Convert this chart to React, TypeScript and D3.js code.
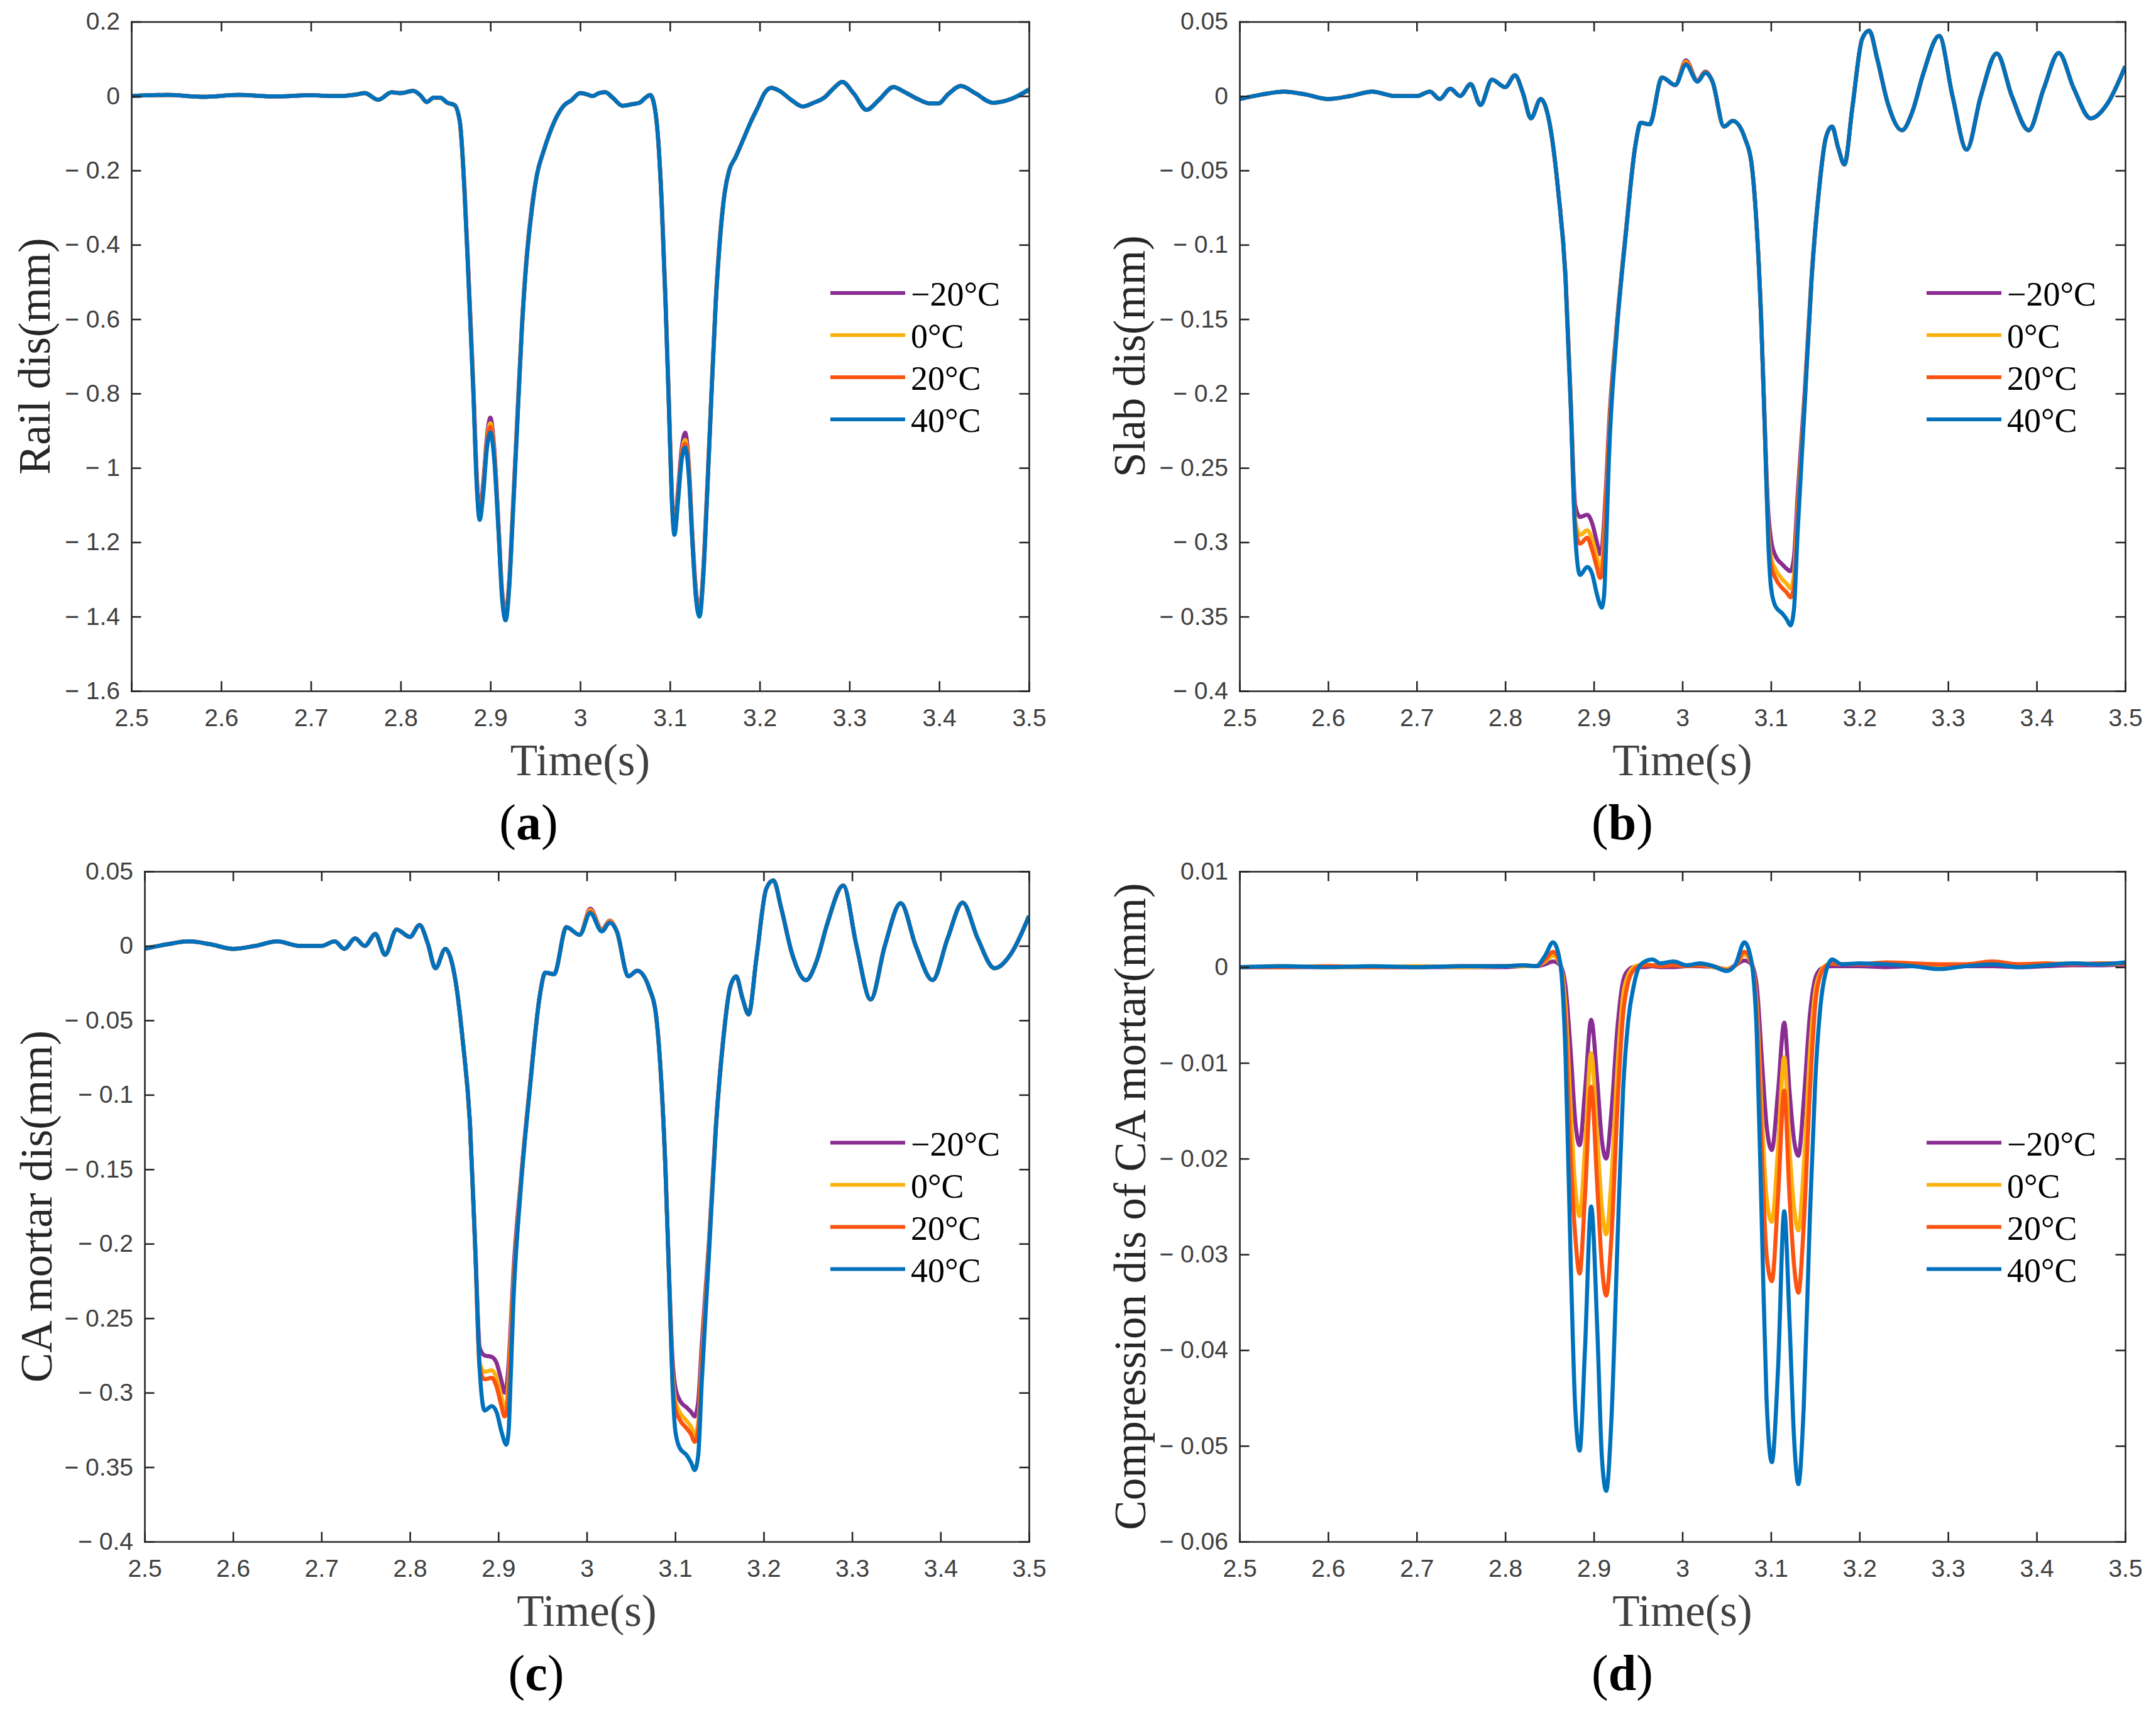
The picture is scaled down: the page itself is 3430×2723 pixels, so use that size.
import { useEffect, useRef } from "react";
import * as d3 from "d3";

const W = 3430;
const H = 2723;

const seriesNames = ["\u221220°C", "0°C", "20°C", "40°C"];
const seriesColors = ["#8a2d92", "#fdb10d", "#fc5410", "#0072bd"];

const timeTicks = [2.5, 2.6, 2.7, 2.8, 2.9, 3.0, 3.1, 3.2, 3.3, 3.4, 3.5];
const railTicks = [0.2, 0, -0.2, -0.4, -0.6, -0.8, -1, -1.2, -1.4, -1.6];
const slabTicks = [0.05, 0, -0.05, -0.1, -0.15, -0.2, -0.25, -0.3, -0.35, -0.4];
const compTicks = [0.01, 0, -0.01, -0.02, -0.03, -0.04, -0.05, -0.06];

// (a) rail displacement
const tRail = [
  2.5, 2.54, 2.58, 2.62, 2.66, 2.7, 2.73, 2.75, 2.76, 2.775,
  2.79, 2.8, 2.814, 2.822, 2.829, 2.837, 2.844, 2.852, 2.86, 2.866,
  2.871, 2.876, 2.881, 2.885, 2.888, 2.892, 2.896, 2.9, 2.904, 2.909,
  2.913, 2.917, 2.921, 2.925, 2.93, 2.935, 2.94, 2.946, 2.952, 2.959,
  2.966, 2.974, 2.982, 2.99, 3.0, 3.007, 3.014, 3.021, 3.028, 3.036,
  3.047, 3.058, 3.066, 3.073, 3.078, 3.083, 3.087, 3.091, 3.095, 3.099,
  3.102, 3.105, 3.109, 3.113, 3.117, 3.121, 3.125, 3.129, 3.133, 3.137,
  3.141, 3.146, 3.151, 3.156, 3.161, 3.166, 3.173, 3.182, 3.19, 3.198,
  3.206, 3.213, 3.222, 3.235, 3.248, 3.26, 3.272, 3.282, 3.292, 3.305,
  3.319, 3.333, 3.349, 3.362, 3.376, 3.39, 3.399, 3.41, 3.424, 3.44,
  3.46, 3.48, 3.5,
];
const railM20 = [
  0, 0.003, -0.002, 0.003, -0.001, 0.002, 0, 0.004, 0.008, -0.01,
  0.01, 0.008, 0.014, 0.002, -0.016, -0.004, -0.004, -0.018, -0.024, -0.07,
  -0.24, -0.5, -0.78, -1.03, -1.12, -1.04, -0.92, -0.865, -0.94, -1.15,
  -1.33, -1.39, -1.3, -1.11, -0.86, -0.62, -0.44, -0.3, -0.21, -0.15,
  -0.1, -0.055, -0.025, -0.012, 0.008, 0.005, 0, 0.008, 0.01, -0.004,
  -0.026, -0.022, -0.018, -0.004, 0.003, -0.03, -0.12, -0.29, -0.54, -0.83,
  -1.06, -1.16, -1.06, -0.95, -0.905, -0.99, -1.18, -1.33, -1.385, -1.28,
  -1.08, -0.81, -0.55, -0.37, -0.26, -0.2, -0.165, -0.115, -0.07, -0.03,
  0.01, 0.022, 0.014, -0.01, -0.028, -0.018, -0.004, 0.02, 0.038, 0.006,
  -0.037, -0.01, 0.024, 0.01, -0.008, -0.02, -0.02, 0.005, 0.027, 0.008,
  -0.018, -0.008, 0.016,
];
const rail0 = [
  0, 0.003, -0.002, 0.003, -0.001, 0.002, 0, 0.004, 0.008, -0.01,
  0.01, 0.008, 0.014, 0.002, -0.016, -0.004, -0.004, -0.018, -0.024, -0.07,
  -0.245, -0.51, -0.79, -1.045, -1.13, -1.055, -0.935, -0.88, -0.955, -1.16,
  -1.34, -1.4, -1.31, -1.12, -0.87, -0.625, -0.445, -0.305, -0.21, -0.15,
  -0.1, -0.055, -0.025, -0.012, 0.008, 0.005, 0, 0.008, 0.01, -0.004,
  -0.026, -0.022, -0.018, -0.004, 0.003, -0.03, -0.12, -0.295, -0.545, -0.84,
  -1.07, -1.17, -1.075, -0.965, -0.925, -1.005, -1.19, -1.34, -1.39, -1.29,
  -1.09, -0.815, -0.555, -0.375, -0.26, -0.2, -0.165, -0.115, -0.07, -0.03,
  0.01, 0.022, 0.014, -0.01, -0.028, -0.018, -0.004, 0.02, 0.038, 0.006,
  -0.037, -0.01, 0.024, 0.01, -0.008, -0.02, -0.02, 0.005, 0.027, 0.008,
  -0.018, -0.008, 0.017,
];
const rail20 = [
  0, 0.003, -0.002, 0.003, -0.001, 0.002, 0, 0.004, 0.008, -0.01,
  0.01, 0.008, 0.014, 0.002, -0.016, -0.004, -0.004, -0.018, -0.025, -0.072,
  -0.25, -0.51, -0.795, -1.05, -1.135, -1.06, -0.94, -0.89, -0.96, -1.165,
  -1.345, -1.405, -1.315, -1.125, -0.875, -0.63, -0.45, -0.31, -0.21, -0.15,
  -0.1, -0.055, -0.025, -0.012, 0.008, 0.005, 0, 0.008, 0.01, -0.004,
  -0.026, -0.022, -0.018, -0.004, 0.003, -0.03, -0.12, -0.3, -0.55, -0.845,
  -1.075, -1.175, -1.08, -0.97, -0.935, -1.01, -1.195, -1.345, -1.395, -1.295,
  -1.095, -0.82, -0.56, -0.38, -0.26, -0.2, -0.165, -0.115, -0.07, -0.03,
  0.01, 0.022, 0.014, -0.01, -0.028, -0.018, -0.004, 0.02, 0.038, 0.006,
  -0.037, -0.01, 0.024, 0.01, -0.008, -0.02, -0.02, 0.005, 0.027, 0.008,
  -0.018, -0.008, 0.017,
];
const rail40 = [
  0, 0.003, -0.002, 0.003, -0.001, 0.002, 0, 0.004, 0.008, -0.01,
  0.01, 0.008, 0.014, 0.002, -0.016, -0.004, -0.004, -0.018, -0.024, -0.07,
  -0.25, -0.52, -0.8, -1.06, -1.14, -1.07, -0.95, -0.905, -0.97, -1.17,
  -1.35, -1.41, -1.32, -1.13, -0.88, -0.63, -0.45, -0.31, -0.21, -0.15,
  -0.1, -0.055, -0.025, -0.012, 0.008, 0.005, 0, 0.008, 0.01, -0.004,
  -0.026, -0.022, -0.018, -0.004, 0.003, -0.03, -0.12, -0.3, -0.55, -0.85,
  -1.08, -1.18, -1.09, -0.98, -0.945, -1.02, -1.2, -1.35, -1.4, -1.3,
  -1.1, -0.82, -0.56, -0.38, -0.26, -0.2, -0.165, -0.115, -0.07, -0.03,
  0.01, 0.022, 0.014, -0.01, -0.028, -0.018, -0.004, 0.02, 0.038, 0.006,
  -0.037, -0.01, 0.024, 0.01, -0.008, -0.02, -0.02, 0.005, 0.027, 0.008,
  -0.018, -0.008, 0.018,
];

// (b) slab and (c) CA mortar share sample times
const tSlab = [
  2.5, 2.525, 2.55, 2.575, 2.6, 2.625, 2.65, 2.675, 2.7, 2.715,
  2.726, 2.738, 2.749, 2.761, 2.772, 2.785, 2.8, 2.811, 2.82, 2.829,
  2.84, 2.846, 2.852, 2.86, 2.868, 2.874, 2.879, 2.8845, 2.8926, 2.898,
  2.9035, 2.907, 2.909, 2.9117, 2.914, 2.917, 2.925, 2.936, 2.947, 2.953,
  2.963, 2.977, 2.992, 3.004, 3.017, 3.026, 3.034, 3.047, 3.057, 3.071,
  3.078, 3.083, 3.089, 3.093, 3.097, 3.1, 3.105, 3.113, 3.118, 3.122,
  3.126, 3.13, 3.138, 3.146, 3.154, 3.162, 3.169, 3.176, 3.183, 3.192,
  3.203, 3.211, 3.22, 3.232, 3.248, 3.26, 3.272, 3.29, 3.305, 3.321,
  3.337, 3.355, 3.372, 3.391, 3.408, 3.425, 3.442, 3.461, 3.48, 3.5,
];
const slabM20 = [
  -0.002, 0.001, 0.003, 0.001, -0.002, 0, 0.003, 0, 0, 0.003,
  -0.002, 0.005, 0, 0.008, -0.006, 0.011, 0.006, 0.014, 0.002, -0.015,
  -0.002, -0.008, -0.025, -0.065, -0.12, -0.205, -0.275, -0.283, -0.2815, -0.287,
  -0.3, -0.308, -0.305, -0.285, -0.26, -0.223, -0.16, -0.092, -0.033, -0.018,
  -0.019, 0.0125, 0.0074, 0.024, 0.0105, 0.0165, 0.0097, -0.0205, -0.0167, -0.029,
  -0.045, -0.079, -0.15, -0.22, -0.28, -0.298, -0.309, -0.315, -0.318, -0.3195,
  -0.31, -0.27, -0.2, -0.12, -0.064, -0.028, -0.0205, -0.035, -0.046, -0.0075,
  0.0385, 0.044, 0.025, -0.005, -0.023, -0.01, 0.015, 0.0405, 0, -0.036,
  0, 0.0287, 0, -0.023, 0.005, 0.029, 0.005, -0.015, -0.005, 0.02,
];
const slab0 = [
  -0.002, 0.001, 0.003, 0.001, -0.002, 0, 0.003, 0, 0, 0.003,
  -0.002, 0.005, 0, 0.008, -0.006, 0.011, 0.006, 0.014, 0.002, -0.015,
  -0.002, -0.008, -0.025, -0.065, -0.121, -0.207, -0.285, -0.295, -0.292, -0.298,
  -0.31, -0.318, -0.315, -0.295, -0.268, -0.23, -0.162, -0.093, -0.033, -0.018,
  -0.019, 0.0125, 0.0074, 0.023, 0.01, 0.016, 0.0097, -0.0205, -0.0167, -0.029,
  -0.045, -0.079, -0.15, -0.222, -0.29, -0.31, -0.318, -0.325, -0.328, -0.331,
  -0.322, -0.28, -0.205, -0.121, -0.065, -0.028, -0.0205, -0.035, -0.046, -0.0075,
  0.0385, 0.044, 0.025, -0.005, -0.023, -0.01, 0.015, 0.0405, 0, -0.036,
  0, 0.0287, 0, -0.023, 0.005, 0.029, 0.005, -0.015, -0.005, 0.02,
];
const slab20 = [
  -0.002, 0.001, 0.003, 0.001, -0.002, 0, 0.003, 0, 0, 0.003,
  -0.002, 0.005, 0, 0.008, -0.006, 0.011, 0.006, 0.014, 0.002, -0.015,
  -0.002, -0.008, -0.025, -0.065, -0.121, -0.208, -0.29, -0.301, -0.297, -0.305,
  -0.317, -0.324, -0.322, -0.302, -0.272, -0.233, -0.164, -0.093, -0.033, -0.018,
  -0.019, 0.0125, 0.0074, 0.022, 0.01, 0.0158, 0.0097, -0.0205, -0.0167, -0.029,
  -0.045, -0.079, -0.151, -0.223, -0.295, -0.315, -0.324, -0.331, -0.334, -0.337,
  -0.33, -0.285, -0.207, -0.122, -0.065, -0.028, -0.0205, -0.035, -0.046, -0.0075,
  0.0385, 0.044, 0.025, -0.005, -0.023, -0.01, 0.015, 0.0405, 0, -0.036,
  0, 0.0287, 0, -0.023, 0.005, 0.029, 0.005, -0.015, -0.005, 0.02,
];
const slab40 = [
  -0.002, 0.001, 0.003, 0.001, -0.002, 0, 0.003, 0, 0, 0.003,
  -0.002, 0.005, 0, 0.008, -0.006, 0.011, 0.006, 0.014, 0.002, -0.015,
  -0.002, -0.008, -0.025, -0.065, -0.122, -0.209, -0.295, -0.322, -0.3166, -0.321,
  -0.335, -0.342, -0.344, -0.335, -0.3, -0.245, -0.166, -0.094, -0.033, -0.018,
  -0.019, 0.0125, 0.0074, 0.021, 0.0097, 0.0155, 0.0097, -0.0205, -0.0167, -0.029,
  -0.045, -0.079, -0.151, -0.223, -0.3, -0.33, -0.343, -0.348, -0.352, -0.356,
  -0.345, -0.295, -0.209, -0.1225, -0.065, -0.028, -0.0205, -0.035, -0.046, -0.0075,
  0.0385, 0.044, 0.025, -0.005, -0.023, -0.01, 0.015, 0.0405, 0, -0.036,
  0, 0.0287, 0, -0.023, 0.005, 0.029, 0.005, -0.015, -0.005, 0.02,
];
const mortarM20 = [
  -0.002, 0.001, 0.003, 0.001, -0.002, 0, 0.003, 0, 0, 0.003,
  -0.002, 0.005, 0, 0.008, -0.006, 0.011, 0.006, 0.014, 0.002, -0.015,
  -0.002, -0.008, -0.025, -0.065, -0.12, -0.203, -0.27, -0.275, -0.276, -0.28,
  -0.292, -0.3, -0.297, -0.28, -0.255, -0.22, -0.16, -0.092, -0.033, -0.018,
  -0.019, 0.0125, 0.0074, 0.025, 0.011, 0.017, 0.0097, -0.0205, -0.0167, -0.029,
  -0.045, -0.079, -0.15, -0.219, -0.278, -0.296, -0.305, -0.31, -0.313, -0.316,
  -0.306, -0.268, -0.2, -0.12, -0.064, -0.028, -0.0205, -0.035, -0.046, -0.0075,
  0.0385, 0.044, 0.025, -0.005, -0.023, -0.01, 0.015, 0.0405, 0, -0.036,
  0, 0.0287, 0, -0.023, 0.005, 0.029, 0.005, -0.015, -0.005, 0.02,
];
const mortar0 = [
  -0.002, 0.001, 0.003, 0.001, -0.002, 0, 0.003, 0, 0, 0.003,
  -0.002, 0.005, 0, 0.008, -0.006, 0.011, 0.006, 0.014, 0.002, -0.015,
  -0.002, -0.008, -0.025, -0.065, -0.121, -0.205, -0.28, -0.286, -0.285, -0.29,
  -0.303, -0.31, -0.308, -0.29, -0.263, -0.228, -0.162, -0.093, -0.033, -0.018,
  -0.019, 0.0125, 0.0074, 0.024, 0.0105, 0.0165, 0.0097, -0.0205, -0.0167, -0.029,
  -0.045, -0.079, -0.15, -0.221, -0.287, -0.305, -0.313, -0.319, -0.323, -0.328,
  -0.32, -0.278, -0.204, -0.121, -0.065, -0.028, -0.0205, -0.035, -0.046, -0.0075,
  0.0385, 0.044, 0.025, -0.005, -0.023, -0.01, 0.015, 0.0405, 0, -0.036,
  0, 0.0287, 0, -0.023, 0.005, 0.029, 0.005, -0.015, -0.005, 0.02,
];
const mortar20 = [
  -0.002, 0.001, 0.003, 0.001, -0.002, 0, 0.003, 0, 0, 0.003,
  -0.002, 0.005, 0, 0.008, -0.006, 0.011, 0.006, 0.014, 0.002, -0.015,
  -0.002, -0.008, -0.025, -0.065, -0.121, -0.206, -0.284, -0.291, -0.29, -0.296,
  -0.309, -0.316, -0.314, -0.297, -0.27, -0.232, -0.164, -0.093, -0.033, -0.018,
  -0.019, 0.0125, 0.0074, 0.023, 0.01, 0.016, 0.0097, -0.0205, -0.0167, -0.029,
  -0.045, -0.079, -0.151, -0.222, -0.292, -0.31, -0.318, -0.324, -0.328, -0.333,
  -0.325, -0.283, -0.206, -0.122, -0.065, -0.028, -0.0205, -0.035, -0.046, -0.0075,
  0.0385, 0.044, 0.025, -0.005, -0.023, -0.01, 0.015, 0.0405, 0, -0.036,
  0, 0.0287, 0, -0.023, 0.005, 0.029, 0.005, -0.015, -0.005, 0.02,
];
const mortar40 = [
  -0.002, 0.001, 0.003, 0.001, -0.002, 0, 0.003, 0, 0, 0.003,
  -0.002, 0.005, 0, 0.008, -0.006, 0.011, 0.006, 0.014, 0.002, -0.015,
  -0.002, -0.008, -0.025, -0.065, -0.12, -0.205, -0.285, -0.312, -0.309, -0.313,
  -0.326, -0.333, -0.335, -0.325, -0.29, -0.24, -0.166, -0.094, -0.033, -0.018,
  -0.019, 0.0125, 0.0074, 0.022, 0.0097, 0.0155, 0.0097, -0.0205, -0.0167, -0.029,
  -0.045, -0.079, -0.15, -0.222, -0.295, -0.325, -0.337, -0.342, -0.347, -0.352,
  -0.342, -0.293, -0.209, -0.1225, -0.065, -0.028, -0.0205, -0.035, -0.046, -0.0075,
  0.0385, 0.044, 0.025, -0.005, -0.023, -0.01, 0.015, 0.0405, 0, -0.036,
  0, 0.0287, 0, -0.023, 0.005, 0.029, 0.005, -0.015, -0.005, 0.02,
];

// (d) compression of CA mortar
const tComp = [
  2.5, 2.55, 2.6, 2.65, 2.7, 2.75, 2.8, 2.82, 2.835, 2.845,
  2.854, 2.862, 2.868, 2.874, 2.879, 2.884, 2.89, 2.897, 2.904, 2.909,
  2.914, 2.92, 2.927, 2.933, 2.939, 2.945, 2.951, 2.958, 2.966, 2.975,
  2.99, 3.005, 3.02, 3.035, 3.05, 3.06, 3.07, 3.078, 3.084, 3.09,
  3.095, 3.101, 3.108, 3.115, 3.121, 3.126, 3.131, 3.137, 3.144, 3.15,
  3.156, 3.162, 3.169, 3.18, 3.2, 3.23, 3.26, 3.29, 3.32, 3.35,
  3.38, 3.41, 3.44, 3.47, 3.5,
];
const compM20 = [
  0, 0, 0, 0, 0, 0, 0, 0.0001, 0.0001, 0.0003,
  0.0006, 0.0002, -0.002, -0.009, -0.016, -0.0186, -0.013, -0.0055, -0.012, -0.018,
  -0.02, -0.015, -0.006, -0.0015, -0.0003, 0, 0, 0, 0.0001, 0,
  0, 0.0001, 0.0001, 0, -0.0002, 0.0002, 0.0007, 0.0003, -0.002, -0.01,
  -0.0165, -0.0191, -0.013, -0.0058, -0.013, -0.018, -0.0197, -0.014, -0.005, -0.0012,
  -0.0002, 0, 0.0001, 0.0001, 0.0001, 0, 0.0001, 0, 0.0001, 0.0001,
  0, 0.0001, 0.0002, 0.0002, 0.0003,
];
const comp0 = [
  0, 0.0001, 0, 0, 0.0001, 0, 0.0001, 0.0001, 0.0001, 0.0006,
  0.0012, 0.0003, -0.004, -0.015, -0.023, -0.026, -0.019, -0.009, -0.018, -0.025,
  -0.0279, -0.022, -0.01, -0.003, -0.0008, 0, 0.0002, 0.0003, 0.0002, 0.0002,
  0.0003, 0.0001, 0.0002, 0, -0.0002, 0.0002, 0.0013, 0.0004, -0.004, -0.016,
  -0.024, -0.0266, -0.019, -0.0094, -0.019, -0.025, -0.0275, -0.021, -0.009, -0.0025,
  -0.0005, 0.0002, 0.0004, 0.0003, 0.0003, 0.0004, 0.0002, 0.0002, 0.0003, 0.0004,
  0.0003, 0.0003, 0.0004, 0.0003, 0.0004,
];
const comp20 = [
  0, 0, 0.0001, 0, 0, 0.0001, 0.0001, 0.0002, 0.0001, 0.0008,
  0.0016, 0.0004, -0.006, -0.02, -0.028, -0.032, -0.024, -0.0125, -0.023, -0.031,
  -0.0343, -0.028, -0.014, -0.005, -0.0015, -0.0003, 0.0001, 0.0002, 0.0002, 0.0001,
  0.0002, 0.0001, 0.0002, 0.0001, -0.0003, 0.0002, 0.0016, 0.0005, -0.005, -0.02,
  -0.03, -0.0328, -0.024, -0.0129, -0.024, -0.031, -0.034, -0.027, -0.013, -0.004,
  -0.0008, 0.0001, 0.0004, 0.0003, 0.0003, 0.0005, 0.0004, 0.0003, 0.0003, 0.0006,
  0.0003, 0.0004, 0.0003, 0.0004, 0.0004,
];
const comp40 = [
  0, 0.0001, 0, 0.0001, 0, 0.0001, 0.0001, 0.0002, 0.0001, 0.0012,
  0.0026, 0.0005, -0.009, -0.031, -0.046, -0.0505, -0.04, -0.025, -0.038, -0.051,
  -0.0547, -0.047, -0.028, -0.013, -0.0055, -0.002, 0, 0.0006, 0.0008, 0.0004,
  0.0006, 0.0002, 0.0004, 0.0001, -0.0004, 0.0003, 0.0026, 0.0006, -0.007, -0.028,
  -0.045, -0.0517, -0.042, -0.0255, -0.037, -0.049, -0.054, -0.046, -0.026, -0.012,
  -0.004, -0.0005, 0.0008, 0.0003, 0.0004, 0.0003, 0.0001, -0.0002, 0.0001, 0.0003,
  0, 0.0002, 0.0004, 0.0003, 0.0005,
];

const panels = [
  {
    id: "a", t: tRail, series: [railM20, rail0, rail20, rail40], yTicks: railTicks,
    ylabel: "Rail dis(mm)",
    frame: { left: 209, right: 1637, top: 34.5, bottom: 1099 }, ylabelX: 79, letterX: 841,
  },
  {
    id: "b", t: tSlab, series: [slabM20, slab0, slab20, slab40], yTicks: slabTicks,
    ylabel: "Slab dis(mm)",
    frame: { left: 1972, right: 3381, top: 34.5, bottom: 1099 }, ylabelX: 1821, letterX: 2581,
  },
  {
    id: "c", t: tSlab, series: [mortarM20, mortar0, mortar20, mortar40], yTicks: slabTicks,
    ylabel: "CA mortar dis(mm)",
    frame: { left: 230, right: 1637, top: 1386, bottom: 2452 }, ylabelX: 82, letterX: 853,
  },
  {
    id: "d", t: tComp, series: [compM20, comp0, comp20, comp40], yTicks: compTicks,
    ylabel: "Compression dis of CA mortar(mm)",
    frame: { left: 1972, right: 3381, top: 1386, bottom: 2452 }, ylabelX: 1822, letterX: 2581,
  },
];

const sans = "'Liberation Sans', Arial, Helvetica, sans-serif";
const serif = "'Liberation Serif', 'Times New Roman', Times, serif";

function fmtY(v: number) {
  if (v === 0) return "0";
  const s = String(+Math.abs(v).toFixed(3));
  return v < 0 ? "\u2212 " + s : s;
}

export default function App() {
  const svgRef = useRef<SVGSVGElement>(null);

  useEffect(() => {
    document.body.style.margin = "0";
    if (!svgRef.current) return;
    const svg = d3.select(svgRef.current);
    svg.selectAll("*").remove();

    svg.append("rect").attr("width", W).attr("height", H).attr("fill", "#fff");

    panels.forEach((p) => {
      const { left, right, top, bottom } = p.frame;
      const x = d3.scaleLinear().domain([2.5, 3.5]).range([left, right]);
      const y = d3
        .scaleLinear()
        .domain([p.yTicks[p.yTicks.length - 1], p.yTicks[0]])
        .range([bottom, top]);

      const g = svg.append("g");

      // clip the curves to the axes box
      g.append("clipPath")
        .attr("id", `clip-${p.id}`)
        .append("rect")
        .attr("x", left)
        .attr("y", top)
        .attr("width", right - left)
        .attr("height", bottom - top);

      const line = d3
        .line<number>()
        .x((_, i) => x(p.t[i]))
        .y((d) => y(d))
        .curve(d3.curveMonotoneX);

      const lines = g.append("g").attr("clip-path", `url(#clip-${p.id})`);
      p.series.forEach((vals, i) => {
        lines
          .append("path")
          .attr("d", line(vals.slice(0, p.t.length)))
          .attr("fill", "none")
          .attr("stroke", seriesColors[i])
          .attr("stroke-width", 6.5)
          .attr("stroke-linejoin", "round");
      });

      const tick = -15.5;
      const xFmt = (d: d3.NumberValue) => String(+(+d).toFixed(2));

      const axes = [
        g.append("g")
          .attr("transform", `translate(0,${bottom})`)
          .call(d3.axisBottom(x).tickValues(timeTicks).tickSizeInner(tick).tickSizeOuter(0).tickPadding(28).tickFormat(xFmt)),
        g.append("g")
          .attr("transform", `translate(0,${top})`)
          .call(d3.axisTop(x).tickValues(timeTicks).tickSizeInner(tick).tickSizeOuter(0).tickFormat(() => "")),
        g.append("g")
          .attr("transform", `translate(${left},0)`)
          .call(d3.axisLeft(y).tickValues(p.yTicks).tickSizeInner(tick).tickSizeOuter(0).tickPadding(18).tickFormat((d) => fmtY(+d))),
        g.append("g")
          .attr("transform", `translate(${right},0)`)
          .call(d3.axisRight(y).tickValues(p.yTicks).tickSizeInner(tick).tickSizeOuter(0).tickFormat(() => "")),
      ];
      axes.forEach((a) => {
        a.attr("font-size", 39).attr("font-family", sans);
        a.selectAll("text").attr("fill", "#404040");
        a.selectAll(".domain, .tick line")
          .attr("stroke", "#262626")
          .attr("stroke-width", 2.6);
        a.select(".domain").attr("stroke-linecap", "square");
      });

      // legend
      const legendTop = top + 431.5;
      p.series.forEach((_, i) => {
        const ly = legendTop + i * 67;
        g.append("line")
          .attr("x1", right - 316)
          .attr("x2", right - 197)
          .attr("y1", ly)
          .attr("y2", ly)
          .attr("stroke", seriesColors[i])
          .attr("stroke-width", 6);
        g.append("text")
          .attr("x", right - 188)
          .attr("y", ly + 20)
          .attr("font-family", serif)
          .attr("font-size", 54)
          .attr("fill", "#000")
          .text(seriesNames[i]);
      });

      // axis titles
      g.append("text")
        .attr("x", (left + right) / 2)
        .attr("y", bottom + 134)
        .attr("text-anchor", "middle")
        .attr("font-family", serif)
        .attr("font-size", 71)
        .attr("fill", "#404040")
        .text("Time(s)");

      g.append("text")
        .attr("transform", `translate(${p.ylabelX},${(top + bottom) / 2}) rotate(-90)`)
        .attr("text-anchor", "middle")
        .attr("font-family", serif)
        .attr("font-size", 71)
        .attr("fill", "#262626")
        .text(p.ylabel);

      // panel letter
      const letter = g.append("text")
        .attr("x", p.letterX)
        .attr("y", bottom + 236)
        .attr("text-anchor", "middle")
        .attr("font-family", serif)
        .attr("font-size", 80)
        .attr("fill", "#000");
      letter.append("tspan").text("(");
      letter.append("tspan").attr("font-weight", "bold").text(p.id);
      letter.append("tspan").text(")");
    });
  }, []);

  return <svg ref={svgRef} width={W} height={H} style={{ display: "block" }} />;
}
